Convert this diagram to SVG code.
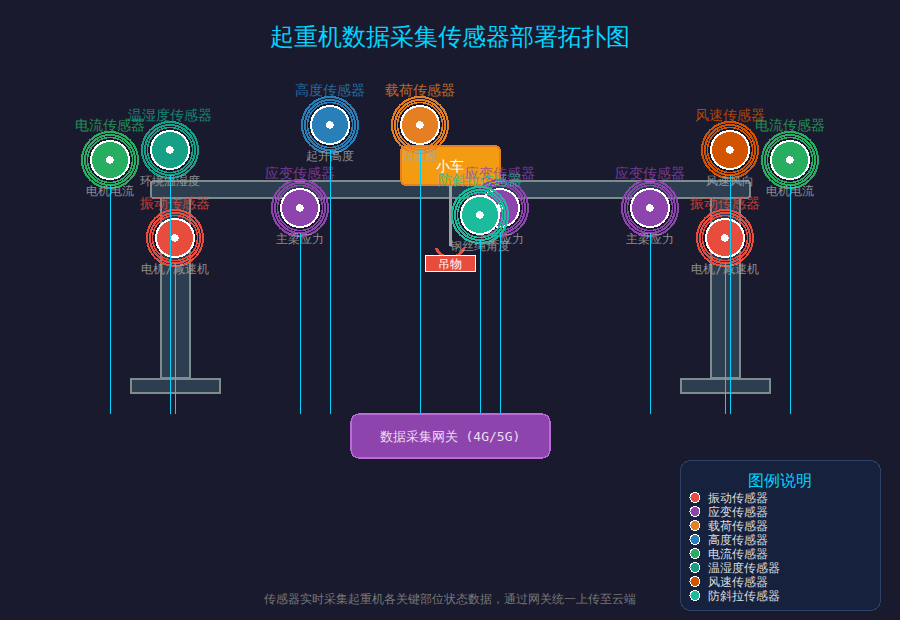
<svg xmlns="http://www.w3.org/2000/svg" width="900" height="620" viewBox="0 0 900 620">
<defs>
<style>
svg{shape-rendering:crispEdges}
text{font-family:"DejaVu Sans Mono",monospace;text-anchor:middle}
.st{fill:#2c3e50;stroke:#7f8c8d;stroke-width:2}
.ln{stroke:#00d4ff;stroke-width:1;fill:none}
.core{stroke:#fff;stroke-width:2}
.ring{fill:none;stroke-width:2}
.dot{fill:#fff}
.nm{font-size:14px;opacity:.8}
.sub{font-size:12px;fill:#aaa;opacity:.8}
.lg{font-size:12px;fill:#ddd;text-anchor:start}
.ld{stroke:#fff;stroke-width:1}
</style>
<g id="rings"><circle class="ring" r="22.500" style="stroke-width:1.500"/><circle class="ring" r="25"/><circle class="ring" r="28"/></g>
</defs>
<rect width="900" height="620" fill="#1a1a2e"/>
<text x="450" y="45" font-size="24" fill="#00d4ff">起重机数据采集传感器部署拓扑图</text>
<g id="crane">
<rect class="st" x="161" y="198" width="29" height="180"/>
<rect class="st" x="711" y="198" width="29" height="180"/>
<rect class="st" x="131" y="379" width="89" height="14"/>
<rect class="st" x="681" y="379" width="89" height="14"/>
<rect class="st" x="151" y="181" width="599" height="17" rx="3"/>
<rect x="401" y="146" width="99" height="39" rx="5" fill="#f39c12" stroke="#e67e22" stroke-width="2"/>
<text x="450" y="171" font-size="14" fill="#fff">小车</text>
<line x1="450.500" y1="185" x2="450.500" y2="246" stroke="#95a5a6" stroke-width="3"/>
<path d="M436 248A15 15 0 0 0 464 248" fill="none" stroke="#e74c3c" stroke-width="3"/>
<rect x="425" y="255" width="50" height="16" fill="#e74c3c" stroke="#fff" stroke-width="1"/>
<text x="450" y="268" font-size="12" fill="#fff">吊物</text>
</g>
<g id="s-current-l"><use href="#rings" x="110" y="160" stroke="#27ae60"/><circle class="core" cx="110" cy="160" r="19" fill="#27ae60"/><circle class="dot" cx="110" cy="160" r="3.700"/><text class="nm" x="110" y="130" fill="#27ae60">电流传感器</text><text class="sub" x="110" y="195">电机电流</text></g>
<g id="s-hum"><use href="#rings" x="170" y="150" stroke="#16a085"/><circle class="core" cx="170" cy="150" r="19" fill="#16a085"/><circle class="dot" cx="170" cy="150" r="3.700"/><text class="nm" x="170" y="120" fill="#16a085">温湿度传感器</text><text class="sub" x="170" y="185">环境温湿度</text></g>
<g id="s-vib-l"><use href="#rings" x="175" y="238" stroke="#e74c3c"/><circle class="core" cx="175" cy="238" r="19" fill="#e74c3c"/><circle class="dot" cx="175" cy="238" r="3.700"/><text class="nm" x="175" y="208" fill="#e74c3c">振动传感器</text><text class="sub" x="175" y="273">电机/减速机</text></g>
<g id="s-strain-l"><use href="#rings" x="300" y="208" stroke="#8e44ad"/><circle class="core" cx="300" cy="208" r="19" fill="#8e44ad"/><circle class="dot" cx="300" cy="208" r="3.700"/><text class="nm" x="300" y="178" fill="#8e44ad">应变传感器</text><text class="sub" x="300" y="243">主梁应力</text></g>
<g id="s-height"><use href="#rings" x="330" y="125" stroke="#2980b9"/><circle class="core" cx="330" cy="125" r="19" fill="#2980b9"/><circle class="dot" cx="330" cy="125" r="3.700"/><text class="nm" x="330" y="95" fill="#2980b9">高度传感器</text><text class="sub" x="330" y="160">起升高度</text></g>
<g id="s-load"><use href="#rings" x="420" y="125" stroke="#e67e22"/><circle class="core" cx="420" cy="125" r="19" fill="#e67e22"/><circle class="dot" cx="420" cy="125" r="3.700"/><text class="nm" x="420" y="95" fill="#e67e22">载荷传感器</text><text class="sub" x="420" y="160">起重量</text></g>
<g id="s-strain-m"><use href="#rings" x="500" y="208" stroke="#8e44ad"/><circle class="core" cx="500" cy="208" r="19" fill="#8e44ad"/><circle class="dot" cx="500" cy="208" r="3.700"/><text class="nm" x="500" y="178" fill="#8e44ad">应变传感器</text><text class="sub" x="500" y="243">主梁应力</text></g>
<g id="s-sway"><use href="#rings" x="480" y="215" stroke="#1abc9c"/><circle class="core" cx="480" cy="215" r="19" fill="#1abc9c"/><circle class="dot" cx="480" cy="215" r="3.700"/><text class="nm" x="480" y="185" fill="#1abc9c">防斜拉传感器</text><text class="sub" x="480" y="250">钢丝绳角度</text></g>
<g id="s-strain-r"><use href="#rings" x="650" y="208" stroke="#8e44ad"/><circle class="core" cx="650" cy="208" r="19" fill="#8e44ad"/><circle class="dot" cx="650" cy="208" r="3.700"/><text class="nm" x="650" y="178" fill="#8e44ad">应变传感器</text><text class="sub" x="650" y="243">主梁应力</text></g>
<g id="s-wind"><use href="#rings" x="730" y="150" stroke="#d35400"/><circle class="core" cx="730" cy="150" r="19" fill="#d35400"/><circle class="dot" cx="730" cy="150" r="3.700"/><text class="nm" x="730" y="120" fill="#d35400">风速传感器</text><text class="sub" x="730" y="185">风速风向</text></g>
<g id="s-current-r"><use href="#rings" x="790" y="160" stroke="#27ae60"/><circle class="core" cx="790" cy="160" r="19" fill="#27ae60"/><circle class="dot" cx="790" cy="160" r="3.700"/><text class="nm" x="790" y="130" fill="#27ae60">电流传感器</text><text class="sub" x="790" y="195">电机电流</text></g>
<g id="s-vib-r"><use href="#rings" x="725" y="238" stroke="#e74c3c"/><circle class="core" cx="725" cy="238" r="19" fill="#e74c3c"/><circle class="dot" cx="725" cy="238" r="3.700"/><text class="nm" x="725" y="208" fill="#e74c3c">振动传感器</text><text class="sub" x="725" y="273">电机/减速机</text></g>
<g id="connectors">
<line class="ln" x1="110.500" y1="185" x2="110.500" y2="414"/><line class="ln" x1="170.500" y1="175" x2="170.500" y2="414"/><line class="ln" x1="175.500" y1="263" x2="175.500" y2="414"/><line class="ln" x1="300.500" y1="233" x2="300.500" y2="414"/><line class="ln" x1="330.500" y1="150" x2="330.500" y2="414"/><line class="ln" x1="420.500" y1="150" x2="420.500" y2="414"/><line class="ln" x1="480.500" y1="240" x2="480.500" y2="414"/><line class="ln" x1="500.500" y1="233" x2="500.500" y2="414"/><line class="ln" x1="650.500" y1="233" x2="650.500" y2="414"/><line class="ln" x1="725.500" y1="263" x2="725.500" y2="414"/><line class="ln" x1="730.500" y1="175" x2="730.500" y2="414"/><line class="ln" x1="790.500" y1="185" x2="790.500" y2="414"/>
</g>
<g id="gateway"><rect x="351" y="414" width="199" height="44" rx="8" fill="#8e44ad" stroke="#bb6bd9" stroke-width="1.500"/><text x="450" y="441" font-size="13" fill="#ecdcf5">数据采集网关 (4G/5G)</text></g>
<g id="legend">
<rect x="680.500" y="460.500" width="200" height="150" rx="10" fill="#16213e" stroke="#2d4068"/>
<text x="780" y="486" font-size="16" fill="#00d4ff">图例说明</text>
<circle class="ld" cx="695" cy="497.500" r="5" fill="#e74c3c"/><text class="lg" x="708" y="502">振动传感器</text>
<circle class="ld" cx="695" cy="511.500" r="5" fill="#8e44ad"/><text class="lg" x="708" y="516">应变传感器</text>
<circle class="ld" cx="695" cy="525.500" r="5" fill="#e67e22"/><text class="lg" x="708" y="530">载荷传感器</text>
<circle class="ld" cx="695" cy="539.500" r="5" fill="#2980b9"/><text class="lg" x="708" y="544">高度传感器</text>
<circle class="ld" cx="695" cy="553.500" r="5" fill="#27ae60"/><text class="lg" x="708" y="558">电流传感器</text>
<circle class="ld" cx="695" cy="567.500" r="5" fill="#16a085"/><text class="lg" x="708" y="572">温湿度传感器</text>
<circle class="ld" cx="695" cy="581.500" r="5" fill="#d35400"/><text class="lg" x="708" y="586">风速传感器</text>
<circle class="ld" cx="695" cy="595.500" r="5" fill="#1abc9c"/><text class="lg" x="708" y="600">防斜拉传感器</text>
</g>
<text x="450" y="603" font-size="12" fill="#777">传感器实时采集起重机各关键部位状态数据，通过网关统一上传至云端</text>
</svg>
